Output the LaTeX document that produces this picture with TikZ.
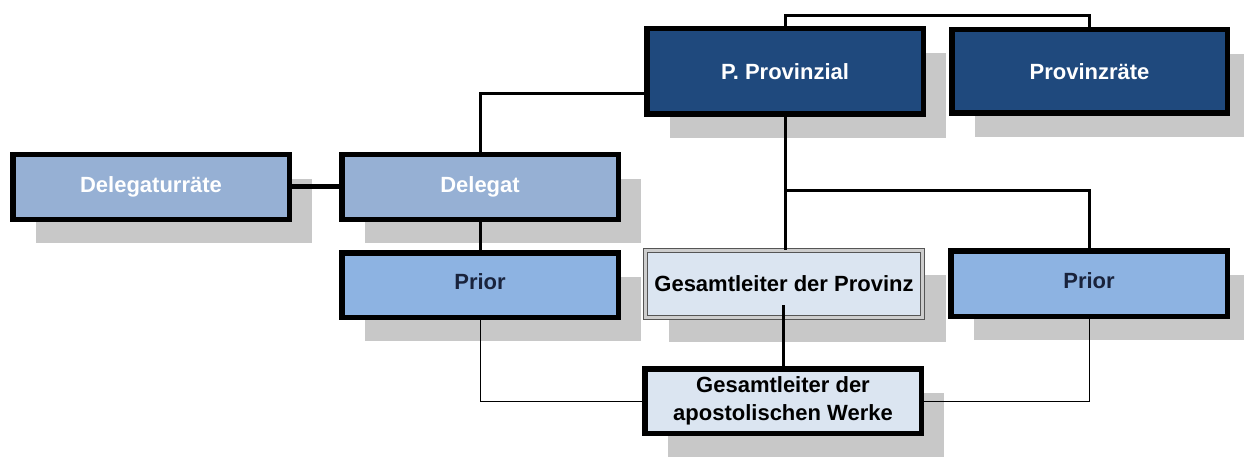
\documentclass[tikz,border=0pt]{standalone}
\usepackage{fontspec}
\setmainfont{Liberation Sans}
\usetikzlibrary{shadows}
\definecolor{darkbox}{RGB}{31,73,125}
\definecolor{delbox}{RGB}{150,176,212}
\definecolor{priorbox}{RGB}{141,179,226}
\definecolor{lightbox}{RGB}{219,229,241}
\definecolor{shadowgray}{RGB}{200,200,200}
\definecolor{priortext}{RGB}{25,35,60}
\definecolor{dblgray}{RGB}{85,85,85}
\definecolor{dblgap}{RGB}{205,205,205}
\tikzset{
  orgbox/.style={draw=black, line width=5.5pt, inner sep=0pt,
    minimum width=276.5pt, minimum height=64.5pt,
    font=\bfseries\fontsize{22}{28}\selectfont, align=center,
    general shadow={fill=shadowgray, shadow xshift=23pt, shadow yshift=-24pt}},
  topbox/.style={orgbox, fill=darkbox, text=white},
  delbx/.style={orgbox, fill=delbox, text=white},
  priorbx/.style={orgbox, fill=priorbox, text=priortext},
  apostbx/.style={orgbox, fill=lightbox, text=black},
  gesbx/.style={orgbox, fill=lightbox, text=black, draw=dblgray, line width=1.4pt,
    double=dblgap, double distance=2.2pt, minimum width=277pt, minimum height=67pt},
  conn/.style={draw=black, line width=3pt},
  thickconn/.style={draw=black, line width=5pt},
  thinconn/.style={draw=black, line width=1pt}
}
\begin{document}
\begin{tikzpicture}[x=1pt, y=-1pt]
\useasboundingbox (0,0) rectangle (1244,457);
\clip (0,0) rectangle (1244,457);
\fill[white] (0,0) rectangle (1244,457);
\node[topbox, minimum height=85.5pt] (prov) at (785,71.5) {P. Provinzial};
\node[topbox, minimum height=83.5pt, minimum width=275.5pt] (provr) at (1089.5,71.5) {Provinzräte};
\node[delbx] (delr) at (151,187) {Delegaturräte};
\node[delbx] (del) at (480,187) {Delegat};
\node[priorbx] (priorL) at (480,285) {\raisebox{6pt}{Prior}};
\node[gesbx] (gesP) at (784,284) {Gesamtleiter der Provinz};
\node[priorbx, minimum height=65.5pt] (priorR) at (1089,283.5) {\raisebox{6pt}{Prior}};
\node[apostbx] (apost) at (783,401) {Gesamtleiter der\\apostolischen Werke};
% connectors
\draw[conn] (prov.north) -- (prov.north |- 0,16) -| (provr.north);
\draw[conn] ([yshift=-22.5pt]prov.west) -| (del.north);
\draw[thickconn] (delr.east) -- (del.west);
\draw[conn] (del.south) -- (priorL.north);
\draw[conn] (prov.south) -- (prov.south |- gesP.north);
\draw[conn] (prov.south |- 0,191) -| (priorR.north);
\draw[conn] ([yshift=13pt]apost.north |- gesP.south) -- (apost.north);
\draw[thinconn] (priorL.south) |- (apost.west);
\draw[thinconn] (priorR.south) |- (apost.east);
\end{tikzpicture}
\end{document}
